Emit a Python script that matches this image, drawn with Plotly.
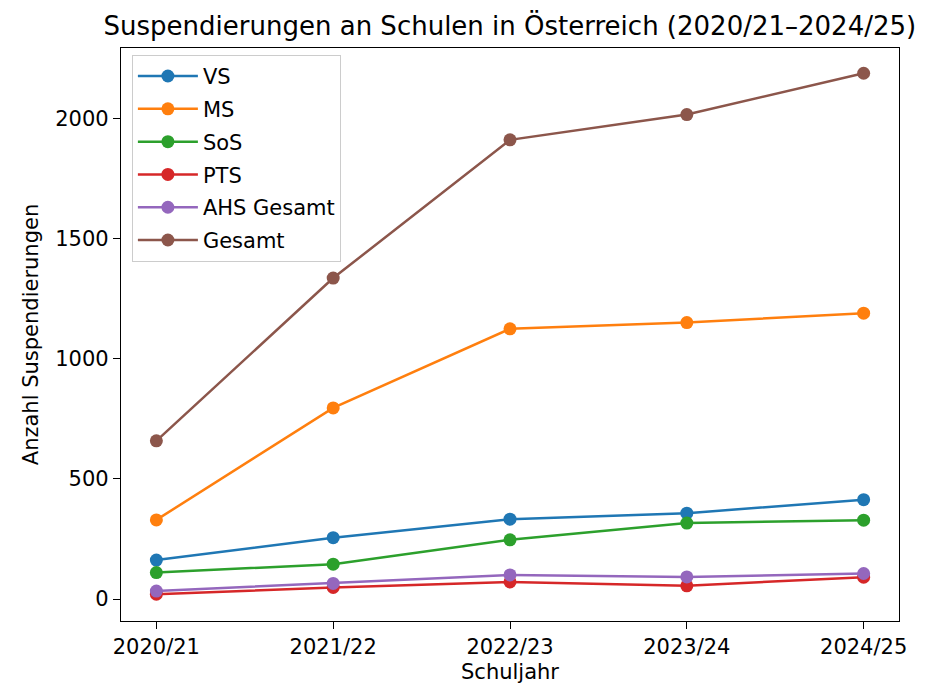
import plotly.graph_objects as go

schuljahre = ["2020/21", "2021/22", "2022/23", "2023/24", "2024/25"]
vs = [162, 255, 332, 357, 413]
ms = [329, 795, 1124, 1150, 1189]
sos = [110, 145, 246, 316, 328]
pts = [20, 48, 71, 55, 91]
ahs_gesamt = [33, 65, 100, 92, 106]
gesamt = [658, 1335, 1910, 2015, 2187]

series = [
    ("VS", vs, "#1f77b4"),
    ("MS", ms, "#ff7f0e"),
    ("SoS", sos, "#2ca02c"),
    ("PTS", pts, "#d62728"),
    ("AHS Gesamt", ahs_gesamt, "#9467bd"),
    ("Gesamt", gesamt, "#8c564b"),
]

FONT = "DejaVu Sans"
FS = 21

fig = go.Figure()
for i, (name, vals, color) in enumerate(series):
    fig.add_trace(go.Scatter(
        x=list(range(len(schuljahre))), y=vals, name=name,
        mode="lines+markers",
        line=dict(color=color, width=2.5),
        marker=dict(color=color, size=13),
        legendgroup=f"g{i}",
    ))

fig.update_layout(
    width=926, height=686,
    margin=dict(l=113, r=35, t=40, b=73),
    paper_bgcolor="white", plot_bgcolor="white",
    font=dict(family=FONT, size=FS, color="black"),
    title=dict(
        text="Suspendierungen an Schulen in Österreich (2020/21–2024/25)",
        x=0.542, xanchor="center", y=1 - 18 / 686, yanchor="middle",
        font=dict(family=FONT, size=26, color="black"),
    ),
    legend=dict(
        x=0.014, y=0.988, xanchor="left", yanchor="top",
        bgcolor="rgba(255,255,255,0.8)", bordercolor="#cccccc", borderwidth=1,
        font=dict(family=FONT, size=FS, color="black"),
        tracegroupgap=2.5,
        itemwidth=60,
    ),
    showlegend=True,
)

fig.update_xaxes(
    range=[-0.2, 4.2],
    tickmode="array", tickvals=list(range(len(schuljahre))), ticktext=schuljahre,
    showgrid=False, zeroline=False,
    showline=True, linecolor="black", linewidth=1.3, mirror=True,
    ticks="outside", ticklen=7, tickwidth=1.3, tickcolor="black",
    tickfont=dict(family=FONT, size=FS, color="black"),
    title=dict(text="Schuljahr", font=dict(family=FONT, size=FS, color="black"), standoff=5),
)
fig.update_yaxes(
    range=[-91.5, 2292],
    tickmode="array", tickvals=[0, 500, 1000, 1500, 2000],
    showgrid=False, zeroline=False,
    showline=True, linecolor="black", linewidth=1.3, mirror=True,
    ticks="outside", ticklen=7, tickwidth=1.3, tickcolor="black",
    tickfont=dict(family=FONT, size=FS, color="black"),
    title=dict(text="Anzahl Suspendierungen", font=dict(family=FONT, size=FS, color="black"), standoff=10),
)

fig.write_html("out.html")
